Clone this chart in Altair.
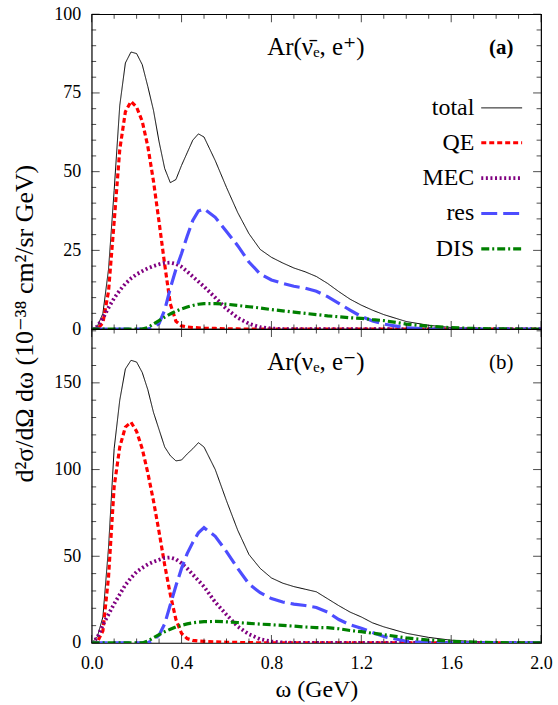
import altair as alt
import pandas as pd

# ---------------- data ----------------
omega = [0, 0.025, 0.05, 0.075, 0.1, 0.125, 0.15, 0.175, 0.2, 0.225, 0.25, 0.275, 0.3, 0.325,
         0.35, 0.375, 0.4, 0.425, 0.45, 0.475, 0.5,
         0.55, 0.6, 0.65, 0.7, 0.75, 0.8, 0.85, 0.9, 0.95, 1.0, 1.05, 1.1, 1.15, 1.2, 1.25, 1.3,
         1.4, 1.5, 1.6, 1.7, 1.8, 1.9, 2.0]

# panel (a): Ar(anti-nu_e, e+)
total_a = [0, 0.8, 5, 19, 44, 71, 84.5, 88, 87.5, 84, 77, 69.5, 59.5, 51, 46.5, 47.5, 52, 56, 60, 62, 61,
           53.5, 45, 37, 30.3, 25.3, 22.8, 21, 19.4, 18.2, 16.7, 14.5, 11.9, 9.5, 7.6, 6.0, 4.6,
           2.4, 1.2, 0.5, 0.2, 0.08, 0.02, 0]
qe_a = [0, 0, 2, 12, 34, 57, 69, 72.3, 70.5, 66, 58, 47, 34, 20.5, 8, 2.5, 1.0, 0.7, 0.5, 0.4, 0.3,
        0.2, 0.1, 0.05, 0, 0, 0, 0, 0, 0, 0, 0, 0, 0, 0, 0, 0,
        0, 0, 0, 0, 0, 0, 0]
mec_a = [0, 0.8, 3.5, 6.8, 9.8, 12.3, 14.4, 16.1, 17.4, 18.4, 19.3, 20.0, 20.6, 21.0, 21.1, 20.7, 19.8, 18.3, 16.7, 15.1, 13.5,
         10.0, 6.4, 3.6, 1.7, 0.6, 0.2, 0, 0, 0, 0, 0, 0, 0, 0, 0, 0,
         0, 0, 0, 0, 0, 0, 0]
res_a = [0, 0, 0, 0, 0, 0, 0, 0, 0, 0, 0, 0.5, 1.8, 6, 13, 19, 24, 29.5, 34.5, 37.5, 38.2,
         35.5, 31, 26.5, 21.3, 17.5, 15.6, 14.5, 13.6, 13.0, 12.0, 10.3, 8.2, 6.0, 4.0, 2.6, 1.6,
         0.4, 0.1, 0, 0, 0, 0, 0]
dis_a = [0, 0, 0, 0, 0, 0, 0, 0, 0, 0, 0.5, 1.6, 2.7, 3.8, 4.8, 5.7, 6.4, 7.0, 7.5, 7.9, 8.1,
         8.1, 7.9, 7.5, 7.1, 6.7, 6.2, 5.8, 5.4, 5.0, 4.6, 4.2, 3.9, 3.6, 3.4, 3.0, 2.7,
         1.6, 0.9, 0.45, 0.2, 0.08, 0.02, 0]

# panel (b): Ar(nu_e, e-)
total_b = [0, 3.5, 15, 55, 112, 140, 158, 163, 162, 156, 146, 133, 123, 113, 108, 105, 105.5, 109, 112, 115.5, 113,
           100, 82, 65, 51, 43, 37.5, 34.5, 32.5, 31, 29.5, 25.5, 21.5, 17.8, 15, 11.6, 9.3,
           5.6, 3.2, 1.6, 0.8, 0.35, 0.1, 0]
qe_b = [0, 0.5, 7, 38, 90, 113, 124.5, 127.3, 122, 112, 98, 82, 64, 45, 28, 13.5, 5.5, 2.5, 1.5, 1.1, 0.9,
        0.6, 0.4, 0.3, 0.2, 0.1, 0, 0, 0, 0, 0, 0, 0, 0, 0, 0, 0,
        0, 0, 0, 0, 0, 0, 0]
mec_b = [0, 3, 10.5, 16.5, 22.5, 28, 33.5, 37.5, 41, 43.3, 45.3, 46.8, 48, 49, 49.3, 48.3, 46, 43, 39.5, 36, 32.5,
         23.5, 16.3, 9.5, 5.0, 2.2, 0.8, 0.3, 0, 0, 0, 0, 0, 0, 0, 0, 0,
         0, 0, 0, 0, 0, 0, 0]
res_b = [0, 0, 0, 0, 0, 0, 0, 0, 0, 0, 0, 2.0, 4.5, 11, 22, 33, 43, 51.5, 58, 63.5, 66.5,
         61.5, 52.7, 43, 34, 29, 25.6, 23.6, 22.4, 21.6, 20.5, 17.8, 13.5, 10.5, 8.5, 6, 3.7,
         1.0, 0.2, 0, 0, 0, 0, 0]
dis_b = [0, 0, 0, 0, 0, 0, 0, 0, 0, 0, 1.2, 3.0, 4.8, 6.5, 7.9, 9.2, 10.2, 11.0, 11.6, 12.0, 12.3,
         12.4, 12.2, 11.8, 11.3, 10.9, 10.5, 10.1, 9.7, 9.2, 8.9, 8.8, 8.2, 7.2, 6.5, 5.6, 4.8,
         2.9, 1.7, 1.0, 0.5, 0.2, 0.08, 0]

series = ["total", "QE", "MEC", "res", "DIS"]
colors = ["#000000", "#ff0000", "#800080", "#4d4dff", "#008000"]
dashes = [[1, 0], [5, 3], [2, 2.6], [16, 6], [8, 3, 2, 3]]
widths = [1, 3.2, 3.8, 3.2, 3.2]

x_major = [0, 0.4, 0.8, 1.2, 1.6, 2.0]
x_minor = [0.1, 0.2, 0.3, 0.5, 0.6, 0.7, 0.9, 1.0, 1.1, 1.3, 1.4, 1.5, 1.7, 1.8, 1.9]
ya_major = [0, 25, 50, 75, 100]
ya_minor = [v for v in range(5, 100, 5) if v % 25]
yb_major = [0, 50, 100, 150]
yb_minor = [v for v in range(10, 181, 10) if v % 50]

W = 451
HA = 316
HB = 315
FONT = "'Liberation Serif', 'DejaVu Serif', serif"
MAJ = 8
MIN = 4.5


def long_df(vals):
    rows = []
    for name, ys in zip(series, vals):
        for w, v in zip(omega, ys):
            rows.append({"w": w, "v": v, "series": name})
    return pd.DataFrame(rows)


def make_panel(df, H, ydom, ymaj, ymin, label, tag, tag_bold, show_legend, xaxis, yaxis):
    xs = alt.Scale(domain=[0, 2], nice=False, zero=False)
    ys = alt.Scale(domain=ydom, nice=False, zero=False)
    if show_legend:
        leg = alt.Legend(orient="none", legendX=389, legendY=73, title=None,
                         symbolType="stroke", symbolSize=1681, labelAlign="right",
                         labelOffset={"expr": "-50"}, labelFont=FONT, labelFontSize=24,
                         labelColor="black", rowPadding=0.5, padding=0, labelLimit=300)
    else:
        leg = None
    lines = alt.Chart(df).mark_line(clip=True).encode(
        x=alt.X("w:Q", scale=xs, axis=xaxis),
        y=alt.Y("v:Q", scale=ys, axis=yaxis),
        color=alt.Color("series:N", scale=alt.Scale(domain=series, range=colors), legend=leg),
        strokeDash=alt.StrokeDash("series:N", scale=alt.Scale(domain=series, range=dashes), legend=leg),
        strokeWidth=alt.StrokeWidth("series:N",
                                    scale=alt.Scale(type="ordinal", domain=series, range=widths),
                                    legend=leg),
    )

    layers = [lines]
    # inward ticks on all four edges, placed through the panel scales
    for vals, size in ((x_major, MAJ), (x_minor, MIN)):
        tdf = pd.DataFrame({"w": vals})
        for ypix in (H - size / 2, size / 2):
            layers.append(alt.Chart(tdf).mark_tick(orient="vertical", color="black", thickness=1,
                                                   size=size).encode(
                x=alt.X("w:Q", scale=xs, axis=xaxis), y=alt.value(ypix)))
    for vals, size in ((ymaj, MAJ), (ymin, MIN)):
        tdf = pd.DataFrame({"v": vals})
        for xpix in (size / 2, W - size / 2):
            layers.append(alt.Chart(tdf).mark_tick(orient="horizontal", color="black", thickness=1,
                                                   size=size).encode(
                y=alt.Y("v:Q", scale=ys, axis=yaxis), x=alt.value(xpix)))

    layers.append(alt.Chart(pd.DataFrame({"t": [label]})).mark_text(
        font=FONT, fontSize=25, color="black", align="center", baseline="middle"
    ).encode(text="t:N", x=alt.value(225), y=alt.value(33)))
    layers.append(alt.Chart(pd.DataFrame({"t": [tag]})).mark_text(
        font=FONT, fontSize=21, color="black", align="center", baseline="middle",
        fontWeight="bold" if tag_bold else "normal"
    ).encode(text="t:N", x=alt.value(411), y=alt.value(34)))
    return alt.layer(*layers).properties(width=W, height=H)


ytitle = "d\u00b2\u03c3/d\u03a9 d\u03c9  (10\u207b\u00b3\u2078 cm\u00b2/sr GeV)"

yaxis_a = alt.Axis(values=ya_major, ticks=False, domain=False, grid=False, labelPadding=11,
                   labelFontSize=18, title=ytitle, titleFontSize=26, titleFontWeight="normal",
                   titleAngle=270, titleX=-67, titleY=310, titleAlign="center", titleBaseline="middle")
yaxis_b = alt.Axis(values=yb_major, ticks=False, domain=False, grid=False, labelPadding=11,
                   labelFontSize=18, title=None)
xaxis_b = alt.Axis(values=x_major, format=".1f", ticks=False, domain=False, grid=False,
                   labelPadding=12, labelFontSize=18, labelFlush=False,
                   title="\u03c9 (GeV)", titleFontSize=24, titleFontWeight="normal", titlePadding=5)

top = make_panel(long_df([total_a, qe_a, mec_a, res_a, dis_a]), HA, [0, 100], ya_major, ya_minor,
                 "Ar(\u03bd\u0304\u2091, e\u207a)", "(a)", True, True, None, yaxis_a)
bottom = make_panel(long_df([total_b, qe_b, mec_b, res_b, dis_b]), HB, [0, 181], yb_major, yb_minor,
                    "Ar(\u03bd\u2091, e\u207b)", "(b)", False, False, xaxis_b, yaxis_b)

chart = alt.vconcat(top, bottom, spacing=0, bounds="flush").resolve_scale(
    x="independent", y="independent", color="independent",
    strokeDash="independent", strokeWidth="independent"
).resolve_legend(
    color="independent", strokeDash="independent", strokeWidth="independent"
).properties(
    padding={"left": 11, "top": 3, "right": 5, "bottom": 5},
    background="white",
).configure_view(
    stroke="black", strokeWidth=1.2
).configure_axis(
    labelFont=FONT, titleFont=FONT, labelColor="black", titleColor="black"
)

chart.save("out.html", embed_options={"renderer": "svg", "actions": False})
